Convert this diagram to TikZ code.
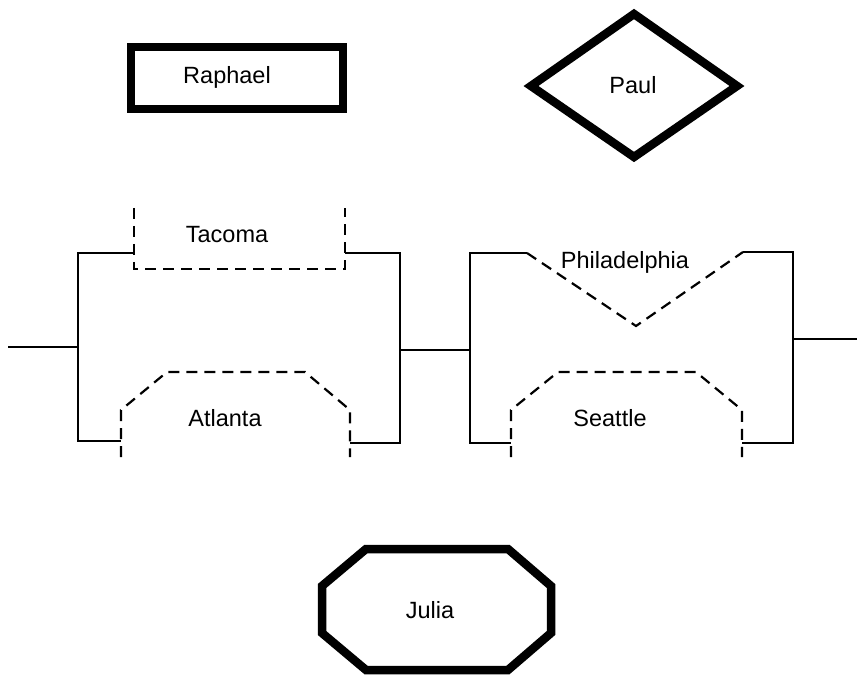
\documentclass[tikz,border=0pt]{standalone}
\usepackage{fontspec}
\setmainfont{Liberation Sans}
\begin{document}
\begin{tikzpicture}[x=1pt,y=-1pt,
  wire/.style={line width=2.2pt},
  frame/.style={line width=8.5pt, line join=miter, miter limit=10},
  dashline/.style={line width=2.2pt, dash pattern=on 11pt off 7pt},
  lbl/.style={font=\fontsize{23.5}{27}\selectfont, inner sep=0pt}]
\useasboundingbox (0,0) rectangle (857,676);

% --- Raphael: thick rectangle
\draw[frame] (131,47) rectangle (343,109);
\node[lbl] (raphael) at (227,77) {Raphael};

% --- Paul: thick diamond
\draw[frame] (634,14) -- (737,86) -- (634,157) -- (531,86) -- cycle;
\node[lbl] (paul) at (633,85) {Paul};

% --- Julia: thick octagon
\draw[frame] (366,549) -- (508,549) -- (551,586) -- (551,633) -- (508,670)
  -- (366,670) -- (322,633) -- (322,586) -- cycle;
\node[lbl] (julia) at (430,610) {Julia};

% --- left block coordinates
\coordinate (inL) at (8,347);
\coordinate (aTL) at (78,253);
\coordinate (aBL) at (78,441);
\coordinate (aTR) at (400,253);
\coordinate (aBR) at (400,443);
\coordinate (aIn) at (78,347);
\coordinate (aOut) at (400,350);

% --- right block coordinates
\coordinate (bTL) at (470,253);
\coordinate (bBL) at (470,443);
\coordinate (bTR) at (793,252);
\coordinate (bBR) at (793,443);
\coordinate (bIn) at (470,350);
\coordinate (bOut) at (793,339);
\coordinate (outR) at (857,339);

% wires between blocks
\draw[wire] (inL) -- (aIn);
\draw[wire] (aOut) -- (bIn);
\draw[wire] (bOut) -- (outR);

% left block solid outline
\draw[wire] (134,253) -- (aTL) -- (aBL) -- (121,441);
\draw[wire] (345,253) -- (aTR) -- (aBR) -- (350,443);

% Tacoma (dashed notch, top)
\draw[dashline] (134,208) -- (134,269) -- (345,269) -- (345,208);
\node[lbl] (tacoma) at (227,235) {Tacoma};

% Atlanta (dashed notch, bottom)
\draw[dashline] (121,457) -- (121,410) -- (167,372) -- (305,372) -- (350,410) -- (350,457);
\node[lbl] (atlanta) at (225,418) {Atlanta};

% right block solid outline
\draw[wire] (527,253) -- (bTL) -- (bBL) -- (511,443);
\draw[wire] (743,252) -- (bTR) -- (bBR) -- (742,443);

% Philadelphia (dashed V, top)
\draw[dashline] (527,253) -- (636,326) -- (743,252);
\node[lbl] (philadelphia) at (625,262) {Philadelphia};

% Seattle (dashed notch, bottom)
\draw[dashline] (511,457) -- (511,410) -- (558,372) -- (696,372) -- (742,410) -- (742,457);
\node[lbl] (seattle) at (610,418) {Seattle};
\end{tikzpicture}
\end{document}
